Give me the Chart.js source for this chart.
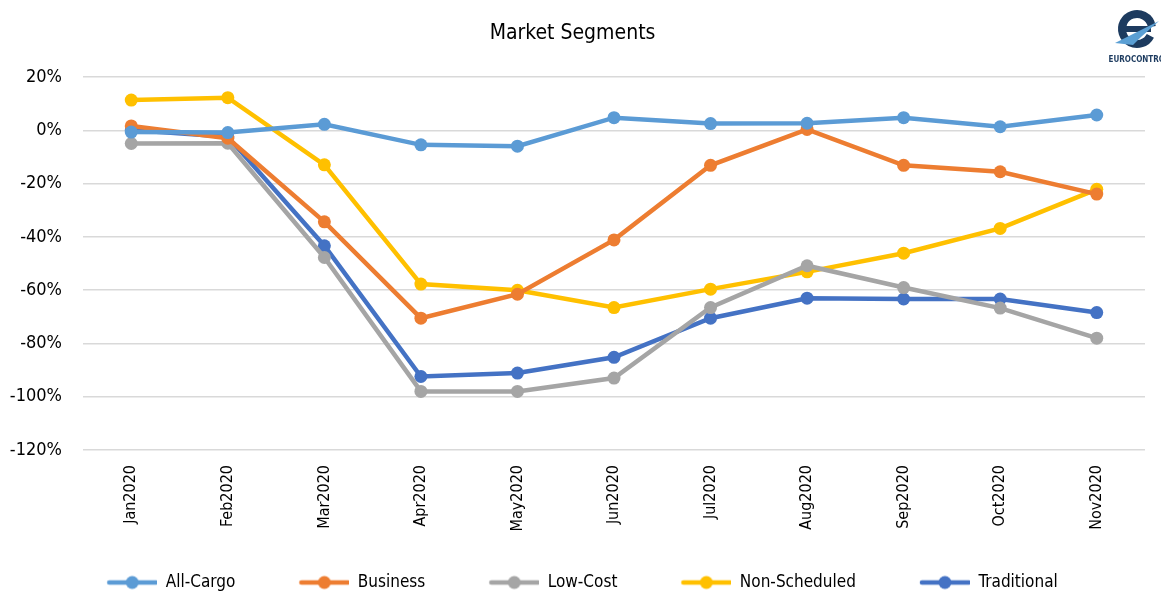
<!DOCTYPE html>
<html>
<head>
<meta charset="utf-8">
<script src="https://cdn.jsdelivr.net/npm/chart.js@4"></script>
<style>
  html, body { margin: 0; padding: 0; background: #fff; }
  #wrap { width: 1161px; height: 592px; position: relative; }
</style>
</head>
<body>
<div id="wrap"><canvas id="lineChart"></canvas></div>
<script>
// Data (percent change)
const months = ['Jan2020', 'Feb2020', 'Mar2020', 'Apr2020', 'May2020', 'Jun2020',
                'Jul2020', 'Aug2020', 'Sep2020', 'Oct2020', 'Nov2020'];
const allCargo     = [-0.6, -0.8, 2.3, -5.4, -5.9, 4.8, 2.6, 2.7, 4.8, 1.4, 5.8];
const business     = [1.7, -2.9, -34.3, -70.5, -61.5, -41.1, -13.1, 0.4, -13.1, -15.5, -23.9];
const lowCost      = [-4.9, -4.8, -47.7, -98.0, -98.0, -93.0, -66.5, -50.8, -59.0, -66.7, -78.0];
const nonScheduled = [11.4, 12.3, -12.9, -57.7, -60.0, -66.5, -59.6, -53.1, -46.1, -36.8, -22.1];
const traditional  = [0.2, -2.4, -43.3, -92.4, -91.1, -85.2, -70.5, -63.0, -63.3, -63.3, -68.4];
const yTicks = [20, 0, -20, -40, -60, -80, -100, -120];

const narrow = "'Liberation Sans Narrow', 'DejaVu Sans Condensed', Roboto, sans-serif";

// legend marker: short line with a dot in the middle, like Excel
// (blank space on the left gives the gap between legend items)
function legendMarker(color) {
    const c = document.createElement('canvas');
    c.width = 70; c.height = 16;
    const g = c.getContext('2d');
    g.strokeStyle = color;
    g.lineWidth = 4.5;
    g.lineCap = 'round';
    g.beginPath();
    g.moveTo(22, 8); g.lineTo(69, 8);
    g.stroke();
    g.fillStyle = color;
    g.beginPath();
    g.arc(45, 8, 6.5, 0, Math.PI * 2);
    g.fill();
    return c;
}

function series(label, data, color) {
    return {
        label: label,
        data: data,
        borderColor: color,
        backgroundColor: color,
        borderWidth: 4.5,
        pointRadius: 6.5,
        pointBorderWidth: 0,
        pointBackgroundColor: color,
        pointStyle: 'circle',
        tension: 0
    };
}

// simple drawing of the logo in the top right corner
const logoPlugin = {
    id: 'logo',
    afterDraw(chart) {
        const g = chart.ctx;
        const cx = 1137, cy = 29;
        g.save();
        g.strokeStyle = '#1d3b5f';
        g.lineWidth = 8;
        g.beginPath();
        g.arc(cx, cy, 15, Math.PI * 0.15, Math.PI * 1.95, false);
        g.stroke();
        g.fillStyle = '#1d3b5f';
        g.fillRect(cx - 16, cy - 3, 30, 6);
        g.fillStyle = '#5a9fd4';
        g.beginPath();
        g.moveTo(cx - 22, cy + 14);
        g.lineTo(cx + 22, cy - 8);
        g.lineTo(cx + 4, cy + 8);
        g.lineTo(cx - 4, cy + 16);
        g.closePath();
        g.fill();
        g.fillStyle = '#1d3b5f';
        g.font = "bold 8px " + narrow;
        g.textAlign = 'center';
        g.fillText('EUROCONTROL', cx + 2, 60);
        g.restore();
    }
};

const chartData = {
    labels: months,
    datasets: [
        series('All-Cargo', allCargo, '#5b9bd5'),
        series('Business', business, '#ed7d31'),
        series('Low-Cost', lowCost, '#a5a5a5'),
        series('Non-Scheduled', nonScheduled, '#ffc000'),
        series('Traditional', traditional, '#4472c4')
    ]
};

const config = {
    type: 'line',
    data: chartData,
    plugins: [logoPlugin],
    options: {
        responsive: true,
        maintainAspectRatio: false,
        animation: false,
        layout: {
            padding: { left: 0, right: 16, top: 16, bottom: -9 }
        },
        plugins: {
            title: {
                display: true,
                text: 'Market Segments',
                color: '#000',
                font: { family: narrow, size: 21, weight: 'normal' },
                padding: { top: 5, bottom: 31 }
            },
            legend: {
                display: true,
                position: 'bottom',
                labels: {
                    usePointStyle: true,
                    pointStyleWidth: 70,
                    color: '#000',
                    font: { family: narrow, size: 17 },
                    padding: 44,
                    boxHeight: 16,
                    generateLabels(chart) {
                        const items = Chart.defaults.plugins.legend.labels.generateLabels(chart);
                        items.forEach(it => {
                            it.pointStyle = legendMarker(chart.data.datasets[it.datasetIndex].borderColor);
                        });
                        return items;
                    }
                }
            },
            tooltip: { enabled: false }
        },
        scales: {
            y: {
                min: -120,
                max: 20,
                afterBuildTicks(scale) {
                    scale.ticks = yTicks.map(v => ({ value: v }));
                },
                afterFit(scale) { scale.width = 83; },
                grid: { color: '#d9d9d9', lineWidth: 1.5, drawTicks: false },
                border: { display: false },
                ticks: {
                    color: '#000',
                    padding: 21,
                    font: { family: narrow, size: 18 },
                    callback: v => v + '%'
                }
            },
            x: {
                offset: true,
                afterFit(scale) { scale.height = 80; },
                grid: { display: false, drawTicks: false },
                border: { display: false },
                ticks: {
                    color: '#000',
                    minRotation: 90,
                    maxRotation: 90,
                    padding: 15,
                    font: { family: narrow, size: 16 }
                }
            }
        }
    }
};

const ctx = document.getElementById('lineChart').getContext('2d');
const lineChart = new Chart(ctx, config);
</script>
</body>
</html>
